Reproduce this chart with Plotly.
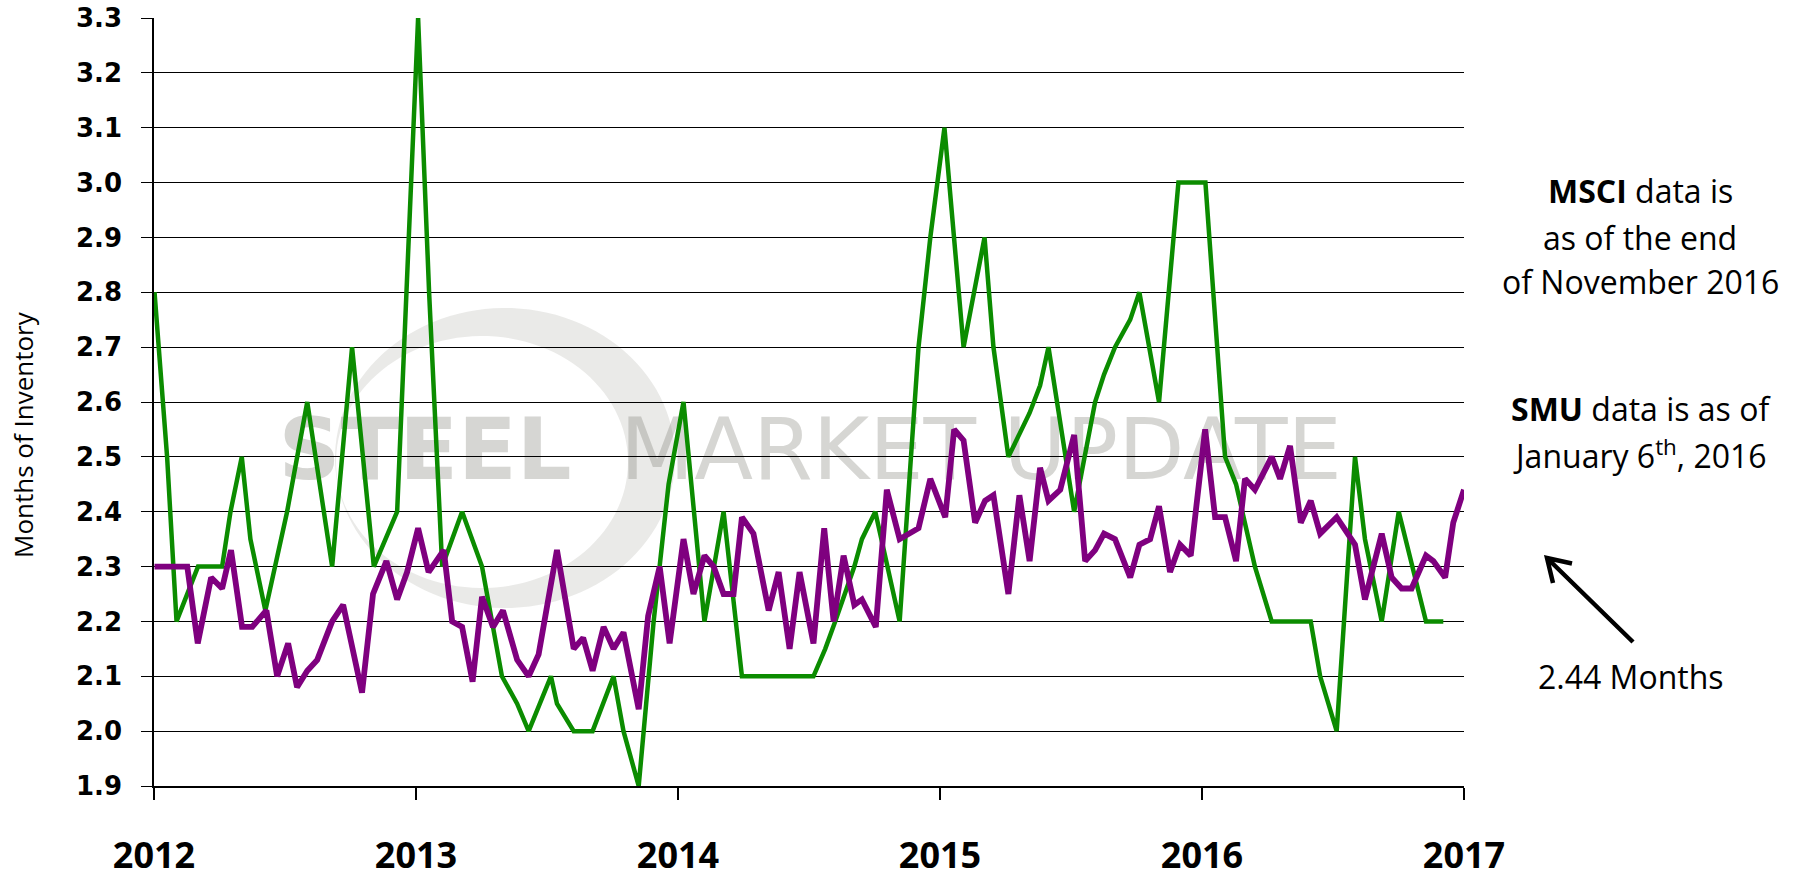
import numpy as np
import plotly.graph_objects as go

# ---------------- data (decimal years, months of inventory) ----------------
msci_t = [2012.002, 2012.050, 2012.086, 2012.168, 2012.260, 2012.292, 2012.335, 2012.368,
          2012.425, 2012.508, 2012.585, 2012.680, 2012.756, 2012.839, 2012.928, 2013.008,
          2013.050, 2013.100, 2013.176, 2013.252, 2013.328, 2013.386, 2013.430, 2013.515,
          2013.538, 2013.602, 2013.674, 2013.716, 2013.754, 2013.792, 2013.850, 2013.907,
          2013.964, 2014.021, 2014.101, 2014.174, 2014.244, 2014.517, 2014.562, 2014.600,
          2014.673, 2014.702, 2014.753, 2014.846, 2014.918, 2014.963, 2015.017, 2015.090,
          2015.170, 2015.204, 2015.261, 2015.342, 2015.382, 2015.414, 2015.512, 2015.592,
          2015.626, 2015.668, 2015.726, 2015.761, 2015.836, 2015.910, 2016.013, 2016.088,
          2016.130, 2016.202, 2016.266, 2016.415, 2016.451, 2016.514, 2016.584, 2016.622,
          2016.686, 2016.751, 2016.855, 2016.921]
msci_v = [2.80, 2.50, 2.20, 2.30, 2.30, 2.40, 2.50, 2.35,
          2.22, 2.40, 2.60, 2.30, 2.70, 2.30, 2.40, 3.30,
          2.80, 2.30, 2.40, 2.30, 2.10, 2.05, 2.00, 2.10,
          2.05, 2.00, 2.00, 2.05, 2.10, 2.00, 1.90, 2.20,
          2.45, 2.60, 2.20, 2.40, 2.10, 2.10, 2.15, 2.20,
          2.30, 2.35, 2.40, 2.20, 2.70, 2.90, 3.10, 2.70,
          2.90, 2.70, 2.50, 2.58, 2.63, 2.70, 2.40, 2.60,
          2.65, 2.70, 2.75, 2.80, 2.60, 3.00, 3.00, 2.50,
          2.45, 2.30, 2.20, 2.20, 2.10, 2.00, 2.50, 2.35,
          2.20, 2.40, 2.20, 2.20]

smu_t = [2012.002, 2012.127, 2012.167, 2012.218, 2012.260, 2012.294, 2012.336, 2012.375,
         2012.429, 2012.470, 2012.512, 2012.546, 2012.585, 2012.623, 2012.680, 2012.722,
         2012.794, 2012.836, 2012.887, 2012.928, 2012.966, 2013.008, 2013.048, 2013.106,
         2013.138, 2013.176, 2013.216, 2013.252, 2013.294, 2013.332, 2013.386, 2013.430,
         2013.468, 2013.538, 2013.602, 2013.638, 2013.674, 2013.716, 2013.754, 2013.792,
         2013.850, 2013.886, 2013.930, 2013.968, 2014.021, 2014.059, 2014.101, 2014.136,
         2014.174, 2014.212, 2014.244, 2014.288, 2014.346, 2014.384, 2014.426, 2014.464,
         2014.517, 2014.558, 2014.594, 2014.632, 2014.673, 2014.702, 2014.755, 2014.797,
         2014.846, 2014.918, 2014.963, 2015.020, 2015.054, 2015.090, 2015.134, 2015.172,
         2015.204, 2015.261, 2015.303, 2015.342, 2015.382, 2015.414, 2015.459, 2015.512,
         2015.554, 2015.592, 2015.626, 2015.668, 2015.726, 2015.761, 2015.802, 2015.836,
         2015.878, 2015.916, 2015.957, 2016.012, 2016.050, 2016.088, 2016.130, 2016.164,
         2016.202, 2016.266, 2016.298, 2016.336, 2016.377, 2016.415, 2016.451, 2016.514,
         2016.584, 2016.622, 2016.686, 2016.724, 2016.762, 2016.800, 2016.855, 2016.883,
         2016.928, 2016.959, 2017.000]
smu_v = [2.30, 2.30, 2.16, 2.28, 2.26, 2.33, 2.19, 2.19,
         2.22, 2.10, 2.16, 2.08, 2.11, 2.13, 2.20, 2.23,
         2.07, 2.25, 2.31, 2.24, 2.29, 2.37, 2.29, 2.33,
         2.20, 2.19, 2.09, 2.245, 2.19, 2.22, 2.13, 2.10,
         2.14, 2.33, 2.15, 2.17, 2.11, 2.19, 2.15, 2.18,
         2.04, 2.21, 2.30, 2.16, 2.35, 2.25, 2.32, 2.30,
         2.25, 2.25, 2.39, 2.36, 2.22, 2.29, 2.15, 2.29,
         2.16, 2.37, 2.20, 2.32, 2.23, 2.24, 2.19, 2.44,
         2.35, 2.37, 2.46, 2.39, 2.55, 2.53, 2.38, 2.42,
         2.43, 2.25, 2.43, 2.31, 2.48, 2.42, 2.44, 2.54,
         2.31, 2.33, 2.36, 2.35, 2.28, 2.34, 2.35, 2.41,
         2.29, 2.34, 2.32, 2.55, 2.39, 2.39, 2.31, 2.46,
         2.44, 2.50, 2.46, 2.52, 2.38, 2.42, 2.36, 2.39,
         2.34, 2.24, 2.36, 2.28, 2.26, 2.26, 2.32, 2.31,
         2.28, 2.38, 2.44]

year_ticks = [2012, 2013, 2014, 2015, 2016, 2017]
year_labels = ["2012", "2013", "2014", "2015", "2016", "2017"]
y_ticks = [1.9, 2.0, 2.1, 2.2, 2.3, 2.4, 2.5, 2.6, 2.7, 2.8, 2.9, 3.0, 3.1, 3.2, 3.3]

# ---------------- layout geometry (page pixels; body margin removed) ----------------
FW, FH = 1796, 871
PLOT_X0, PLOT_X1 = 154, 1464
PLOT_Y0, PLOT_Y1 = 18, 786
L = PLOT_X0
R = FW - PLOT_X1
T = PLOT_Y0
B = FH - PLOT_Y1
PW, PH = PLOT_X1 - PLOT_X0, PLOT_Y1 - PLOT_Y0


def px(xp):
    return (xp - PLOT_X0) / PW


def py(yp):
    return (PLOT_Y1 - yp) / PH


fig = go.Figure()
fig.add_trace(go.Scatter(x=msci_t, y=msci_v, mode="lines", name="MSCI",
                         line=dict(color="#0b8c00", width=4.5), hoverinfo="skip"))
fig.add_trace(go.Scatter(x=smu_t, y=smu_v, mode="lines", name="SMU",
                         line=dict(color="#7f007f", width=5.8), hoverinfo="skip"))

shapes = []
# watermark swoosh (crescent) below the traces
th = np.linspace(0, 2 * np.pi, 120)


def ellipse_path(cx, cy, rx, ry):
    pts = [(px(cx + rx * np.cos(a)), py(cy + ry * np.sin(a))) for a in th]
    return "M" + " L".join(f"{a:.5f},{b:.5f}" for a, b in pts) + " Z"


crescent = ellipse_path(505, 458, 170, 150) + " " + ellipse_path(482, 462, 146, 126)
shapes.append(dict(type="path", xref="paper", yref="paper", path=crescent,
                   fillcolor="rgba(150,150,140,0.2)", fillrule="evenodd",
                   line=dict(width=0), layer="below"))
# watermark words
for txt, cx, w, bold in [("STEEL", 425, 320, True), ("MARKET UPDATE", 981, 760, False)]:
    shapes.append(dict(type="rect", xref="paper", yref="paper",
                       x0=px(cx - w / 2), x1=px(cx + w / 2), y0=py(488), y1=py(398),
                       line=dict(width=0), fillcolor="rgba(0,0,0,0)", layer="below",
                       label=dict(text=txt, textposition="middle center",
                                  font=dict(family="DejaVu Sans", size=86,
                                            color="rgba(120,120,110,0.30)",
                                            weight="bold" if bold else "normal"))))
# arrow pointing to the last SMU value
tip = (1547, 558)
tail = (1633, 642)
armA = (1553, 583)
armB = (1572, 563.5)
arrow_path = (f"M{px(armA[0]):.5f},{py(armA[1]):.5f} L{px(tip[0]):.5f},{py(tip[1]):.5f} "
              f"L{px(armB[0]):.5f},{py(armB[1]):.5f} M{px(tip[0]):.5f},{py(tip[1]):.5f} "
              f"L{px(tail[0]):.5f},{py(tail[1]):.5f}")
shapes.append(dict(type="path", xref="paper", yref="paper", path=arrow_path,
                   line=dict(color="black", width=4.5)))

txt_font = dict(family="Open Sans", size=32, color="black")
annotations = []
for text, cx, cy in [("<b>MSCI</b> data is", 1641, 191),
                     ("as of the end", 1640, 237),
                     ("of November 2016", 1640, 281),
                     ("<b>SMU</b> data is as of", 1641, 408),
                     ("January 6<sup>th</sup>, 2016", 1640, 454),
                     ("2.44 Months", 1631, 676)]:
    annotations.append(dict(text=text, x=px(cx), y=py(cy), xref="paper", yref="paper",
                            xanchor="center", yanchor="middle", showarrow=False,
                            font=txt_font))
annotations.append(dict(text="Months of Inventory", x=px(23), y=py(435), xref="paper",
                        yref="paper", xanchor="center", yanchor="middle", textangle=-90,
                        showarrow=False,
                        font=dict(family="Open Sans", size=26, color="black")))

fig.update_layout(
    width=FW, height=FH,
    margin=dict(l=L, r=R, t=T, b=B, pad=0, autoexpand=False),
    paper_bgcolor="white", plot_bgcolor="white",
    showlegend=False,
    shapes=shapes, annotations=annotations,
    xaxis=dict(range=[2012, 2017], tickmode="array", tickvals=year_ticks,
               ticktext=year_labels, showgrid=False, zeroline=False, automargin=False,
               showline=True, linecolor="black", linewidth=1.5,
               ticks="outside", ticklen=12, tickwidth=1.5, tickcolor="black",
               tickfont=dict(family="Open Sans", size=36, color="black", weight="bold"),
               ticklabelstandoff=25),
    yaxis=dict(range=[1.8999999, 3.3000001], tickmode="array", tickvals=y_ticks,
               ticktext=[f"{v:.1f}" for v in y_ticks], showgrid=True, automargin=False,
               gridcolor="black", gridwidth=1.3, zeroline=False,
               showline=True, linecolor="black", linewidth=1.5,
               ticks="outside", ticklen=11, tickwidth=1.3, tickcolor="black",
               tickfont=dict(family="DejaVu Sans", size=26, color="black", weight="bold"),
               ticklabelstandoff=14),
)

fig.write_html("out.html", config={"displayModeBar": False},
               post_script="document.body.style.margin='0px';document.body.style.overflow='hidden';")
